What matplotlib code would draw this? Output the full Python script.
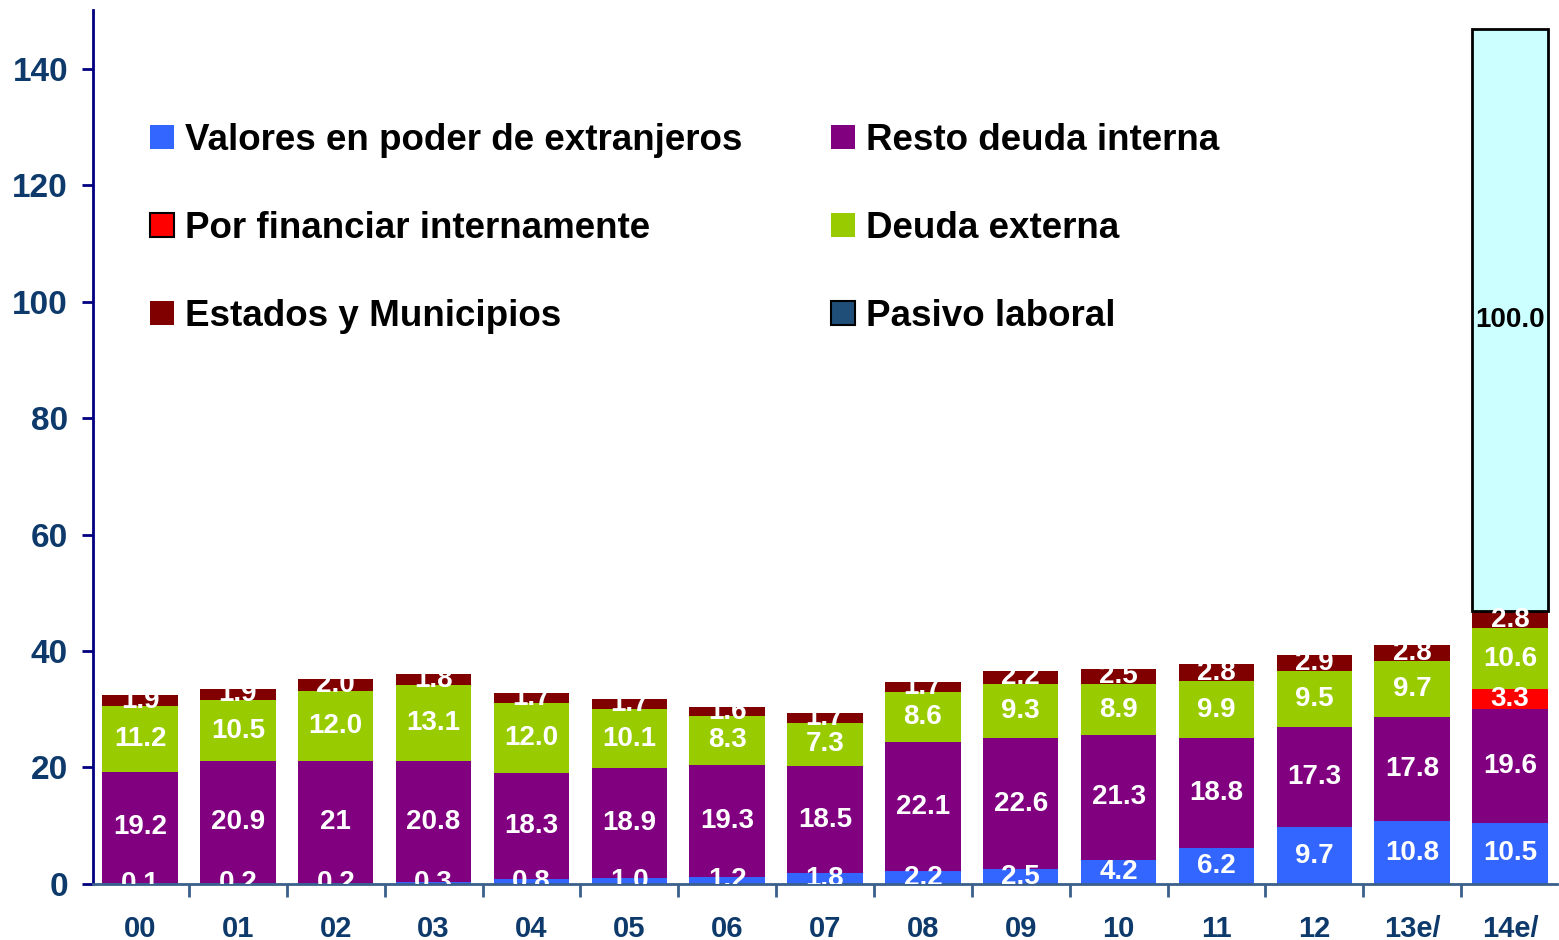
import numpy as np
import matplotlib.pyplot as plt
from matplotlib.patches import Patch
from matplotlib.ticker import FixedLocator

plt.rcParams['font.family'] = ['Liberation Sans', 'DejaVu Sans']
plt.rcParams['font.weight'] = 'bold'

years = ["00", "01", "02", "03", "04", "05", "06", "07", "08", "09",
         "10", "11", "12", "13e/", "14e/"]

# porcentajes del PIB (aprox.)
valores_ext = [0.1, 0.2, 0.2, 0.3, 0.8, 1.0, 1.2, 1.8, 2.2, 2.5, 4.2, 6.2, 9.7, 10.8, 10.5]
resto_interna = [19.2, 20.9, 21, 20.8, 18.3, 18.9, 19.3, 18.5, 22.1, 22.6, 21.3, 18.8, 17.3, 17.8, 19.6]
por_financiar = [0, 0, 0, 0, 0, 0, 0, 0, 0, 0, 0, 0, 0, 0, 3.3]
deuda_externa = [11.2, 10.5, 12.0, 13.1, 12.0, 10.1, 8.3, 7.3, 8.6, 9.3, 8.9, 9.9, 9.5, 9.7, 10.6]
estados_mun = [1.9, 1.9, 2.0, 1.8, 1.7, 1.7, 1.6, 1.7, 1.7, 2.2, 2.5, 2.8, 2.9, 2.8, 2.8]
pasivo_laboral = [0, 0, 0, 0, 0, 0, 0, 0, 0, 0, 0, 0, 0, 0, 100.0]

navy = "#0E3A6B"

series = [
    ("Valores en poder de extranjeros", valores_ext, "#3366FF", "none", "white"),
    ("Resto deuda interna", resto_interna, "#800080", "none", "white"),
    ("Por financiar internamente", por_financiar, "#FF0000", "none", "white"),
    ("Deuda externa", deuda_externa, "#99CC00", "none", "white"),
    ("Estados y Municipios", estados_mun, "#800000", "none", "white"),
    ("Pasivo laboral", pasivo_laboral, "#CCFFFF", "black", "black"),
]

def fmt(v):
    if isinstance(v, int):
        return str(v)
    return f"{v:.1f}"

fig = plt.figure(figsize=(15.59, 9.40), dpi=100)
ax = fig.add_axes([0.0597, 0.0596, 0.939, 0.9294])

x = np.arange(len(years))
bottom = np.zeros(len(years))
for name, vals, color, edge, tcol in series:
    v = np.array(vals, dtype=float)
    nz = v > 0
    ax.bar(x[nz], v[nz], 0.77, bottom=bottom[nz], color=color,
           edgecolor=edge, linewidth=2 if edge != "none" else 0)
    for i, raw in enumerate(vals):
        if raw == 0:
            continue
        ax.text(x[i], bottom[i] + v[i] / 2, fmt(raw), ha="center", va="center",
                color=tcol, fontsize=20, fontweight="bold", clip_on=True)
    bottom += v

ax.set_xlim(-0.48, len(years) - 0.52)
ax.set_ylim(0, 150)
ax.set_yticks(range(0, 141, 20))
ax.set_xticks(x)
ax.set_xticklabels(years)
ax.xaxis.set_minor_locator(FixedLocator(np.arange(-0.5, len(years), 1.0)))

ax.tick_params(axis="x", which="major", length=0, pad=22, labelsize=21, labelcolor=navy)
ax.tick_params(axis="x", which="minor", length=9, width=2, color="#3A5F8A", direction="out")
ax.tick_params(axis="y", length=8, width=2, color="#000080", pad=10, labelsize=24, labelcolor=navy)
for lab in ax.get_xticklabels() + ax.get_yticklabels():
    lab.set_fontweight("bold")

for s in ["top", "right"]:
    ax.spines[s].set_visible(False)
ax.spines["left"].set_color("#000080")
ax.spines["left"].set_linewidth(2)
ax.spines["bottom"].set_color("#3A5F8A")
ax.spines["bottom"].set_linewidth(2)

handles = [
    Patch(facecolor="#3366FF", edgecolor="none", label="Valores en poder de extranjeros"),
    Patch(facecolor="#FF0000", edgecolor="black", linewidth=1.5, label="Por financiar internamente"),
    Patch(facecolor="#800000", edgecolor="none", label="Estados y Municipios"),
    Patch(facecolor="#800080", edgecolor="none", label="Resto deuda interna"),
    Patch(facecolor="#99CC00", edgecolor="none", label="Deuda externa"),
    Patch(facecolor="#1F4E79", edgecolor="black", linewidth=1.5, label="Pasivo laboral"),
]
ax.legend(handles=handles, ncol=2, loc="upper left", bbox_to_anchor=(0.039, 0.871),
          frameon=False, borderaxespad=0, borderpad=0,
          handlelength=0.65, handleheight=0.65, handletextpad=0.3,
          labelspacing=1.44, columnspacing=2.4,
          prop={"weight": "bold", "size": 26.5})

fig.savefig("out.png", dpi=100)
